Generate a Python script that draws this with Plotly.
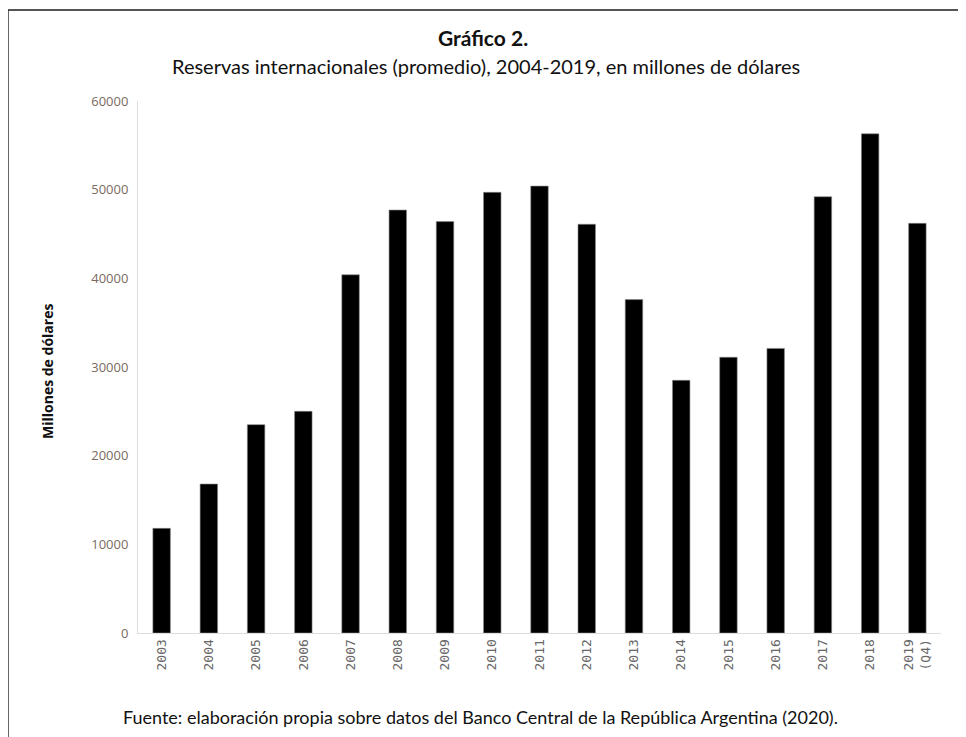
import plotly.graph_objects as go

years = ["2003", "2004", "2005", "2006", "2007", "2008", "2009", "2010", "2011",
         "2012", "2013", "2014", "2015", "2016", "2017", "2018", "2019<br>(Q4)"]
reservas = [11800, 16800, 23500, 25000, 40400, 47700, 46400, 49700, 50400,
            46100, 37600, 28500, 31100, 32100, 49200, 56300, 46200]
y_ticks = [0, 10000, 20000, 30000, 40000, 50000, 60000]
y_tick_text = ["0", "10000", "20000", "30000", "40000", "50000", "60000"]

# page has an 8px body margin; work in page pixel coords then offset
OFF = 8
W, H = 958, 729
L, R, T, B = 138 - OFF, W - (941 - OFF), 101 - OFF, H - (633 - OFF)
pw, ph = W - L - R, H - T - B

def px(x):
    return (x - OFF - L) / pw

def py(y):
    return (H - B - (y - OFF)) / ph

fig = go.Figure(go.Bar(
    x=years, y=reservas,
    marker=dict(color="black", line=dict(width=0.6, color="#888888")),
    width=0.37,
))

fig.update_layout(
    width=W, height=H,
    margin=dict(l=L, r=R, t=T, b=B),
    paper_bgcolor="white", plot_bgcolor="white",
    showlegend=False,
    font=dict(family="Lato", color="#222222"),
    xaxis=dict(
        type="category", tickangle=-90,
        tickfont=dict(family="DejaVu Sans Mono", size=13, color="#666666"),
        showline=True, linecolor="#dddddd", linewidth=1,
        showgrid=False, ticks="",
    ),
    yaxis=dict(
        range=[0, 60000], tickvals=y_ticks, ticktext=y_tick_text,
        tickfont=dict(family="Open Sans", size=13, color="#7a6a5e"),
        showline=True, linecolor="#dddddd", linewidth=1,
        showgrid=False, zeroline=False, ticks="", ticklabelstandoff=6,
    ),
)

def note(text, x, y, size, family="Lato", angle=0):
    fig.add_annotation(text=text, x=px(x), y=py(y), xref="paper", yref="paper",
                       xanchor="center", yanchor="middle", textangle=angle,
                       showarrow=False, font=dict(family=family, size=size, color="#111111"))

note("<b>Gráfico 2.</b>", 483, 38, 21)
note("Reservas internacionales (promedio), 2004-2019, en millones de dólares", 486, 66, 20)
note("<b>Millones de dólares</b>", 47, 372, 14, family="Open Sans", angle=-90)
note("Fuente: elaboración propia sobre datos del Banco Central de la República Argentina (2020).",
     480, 717, 18)

# border frame (top and left edges visible)
fig.add_shape(type="line", xref="paper", yref="paper",
              x0=px(8), y0=py(10), x1=px(980), y1=py(10),
              line=dict(color="#555555", width=2))
fig.add_shape(type="line", xref="paper", yref="paper",
              x0=px(8), y0=py(10), x1=px(8), y1=py(750),
              line=dict(color="#333333", width=1.5))

fig.write_html("out.html")
